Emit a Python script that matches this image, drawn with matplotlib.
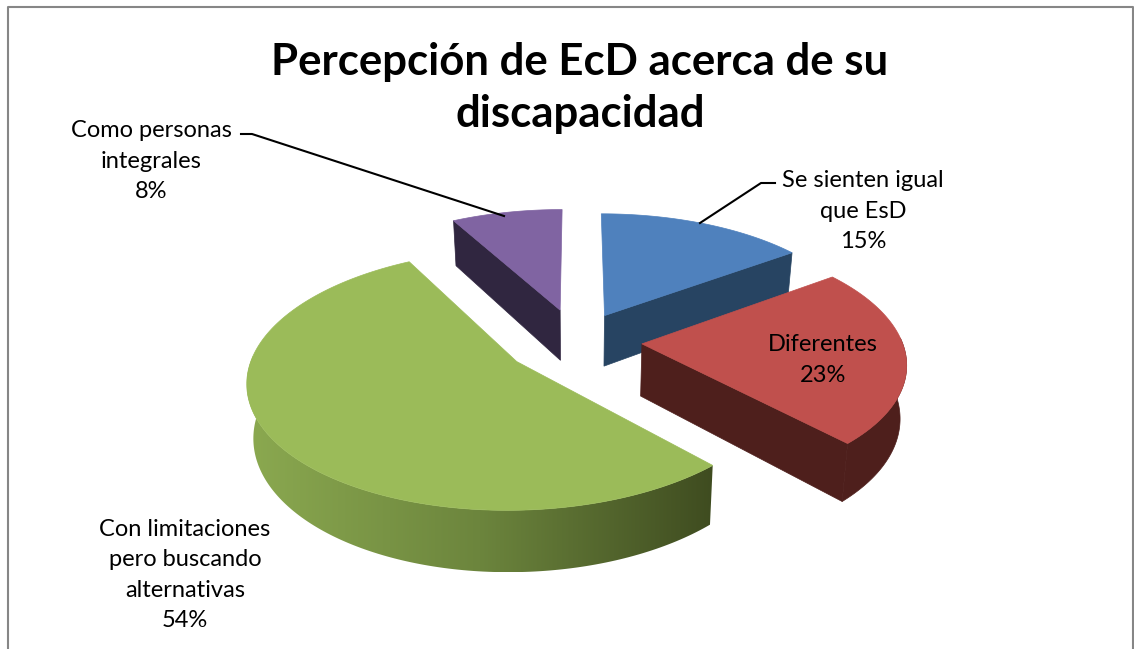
"""
Percepcion de EcD - exploded 3D pie drawn from the slice shares.
"""
import numpy as np
import matplotlib
matplotlib.use('Agg')
import matplotlib.pyplot as plt
from matplotlib.patches import Polygon
from matplotlib.colors import LinearSegmentedColormap

title = "Percepción de EcD acerca de su\ndiscapacidad"
labels = ["Se sienten igual\nque EsD", "Diferentes",
          "Con limitaciones\npero buscando\nalternativas", "Como personas\nintegrales"]
shares = [15, 23, 54, 8]

top_colors = ["#4f81bd", "#c0504d", "#9bbb59", "#8064a2"]
wall_colors = ["#274462", "#4e1f1c", "#5f7534", "#302640"]
green_ramp = LinearSegmentedColormap.from_list("wall", ["#8ba950", "#6c853d", "#3f4c20"])

# projection settings, in pixels of the 1134x649 canvas
CX, CY = 577, 341
RADIUS = 260
TILT = 0.47
PERSP = 0.137
SHRINK = 0.02
DEPTH = 52
EXPLODE = [0.24, 0.25, 0.28, 0.27]

plt.rcParams['font.family'] = ['Lato', 'DejaVu Sans']

fig = plt.figure(figsize=(11.34, 6.49), dpi=100)
ax = fig.add_axes([0, 0, 1, 1])
ax.axis("off")


def project(x, z, h=0.0):
    s = 1 / (1 + PERSP * z)
    return CX + RADIUS * x * s * (1 - SHRINK * h), CY - RADIUS * TILT * z * s + DEPTH * h * s


def rim(a, off, h=0.0):
    return project(off[0] + np.sin(a), off[1] + np.cos(a), h)


edges = np.deg2rad(np.cumsum([0] + shares) * 3.6)
offsets = []
for i in range(len(shares)):
    mid = (edges[i] + edges[i + 1]) / 2
    offsets.append((EXPLODE[i] * np.sin(mid), EXPLODE[i] * np.cos(mid)))

# back slices first so the front ones cover them
for i in [3, 0, 1, 2]:
    a0, a1 = edges[i], edges[i + 1]
    off = offsets[i]
    angles = np.linspace(a0, a1, 200)
    apex = project(off[0], off[1])
    apex_low = project(off[0], off[1], 1)

    # cut face that looks at the viewer
    cut = a0 if i == 3 else a1
    if i != 2:
        face = [apex, rim(cut, off), rim(cut, off, 1), apex_low]
        ax.add_patch(Polygon(face, closed=True, fc=wall_colors[i], ec=wall_colors[i], lw=0.5, zorder=i + 1))

    # outer wall, only the part that faces front
    front = angles[np.cos(angles) <= 0.05]
    if len(front):
        wall = [rim(a, off) for a in front] + [rim(a, off, 1) for a in front[::-1]]
        if i == 2:
            patch = Polygon(wall, closed=True, fc="none", ec="none", zorder=i + 1)
            ax.add_patch(patch)
            xs = [p[0] for p in wall]
            ys = [p[1] for p in wall]
            img = ax.imshow(np.linspace(0, 1, 256).reshape(1, -1), cmap=green_ramp, aspect="auto",
                            extent=(min(xs), max(xs), max(ys), min(ys)), zorder=i + 1)
            img.set_clip_path(patch)
        else:
            ax.add_patch(Polygon(wall, closed=True, fc=wall_colors[i], ec=wall_colors[i], lw=0.5, zorder=i + 1))

    outline = [apex] + [rim(a, off) for a in angles]
    ax.add_patch(Polygon(outline, closed=True, fc=top_colors[i], ec=top_colors[i], lw=0.5, zorder=i + 1.5))

ax.set_xlim(0, 1134)
ax.set_ylim(649, 0)

# chart frame, the bottom side is cut off in the picture
ax.plot([8, 8, 1133, 1133], [649, 6.5, 6.5, 649], color="#868686", lw=1.5, zorder=10)

ax.text(580, 88, title, ha="center", va="center", fontsize=31.5, fontweight="bold",
        linespacing=1.39, color="black", zorder=11)

LABEL_SIZE = 17
label_xy = [(863, 211), (823, 360), (185, 575), (151, 161)]
for name, share, (x, y) in zip(labels, shares, label_xy):
    ax.text(x, y, f"{name}\n{share}%", ha="center", va="center", fontsize=LABEL_SIZE,
            linespacing=1.54, color="black", zorder=11)

# leader lines
ax.plot([775, 761, 700], [183, 183, 223], color="black", lw=1.5, zorder=11)
ax.plot([241, 252, 504], [134, 134, 216], color="black", lw=1.5, zorder=11)

fig.savefig("out.png", dpi=100)
